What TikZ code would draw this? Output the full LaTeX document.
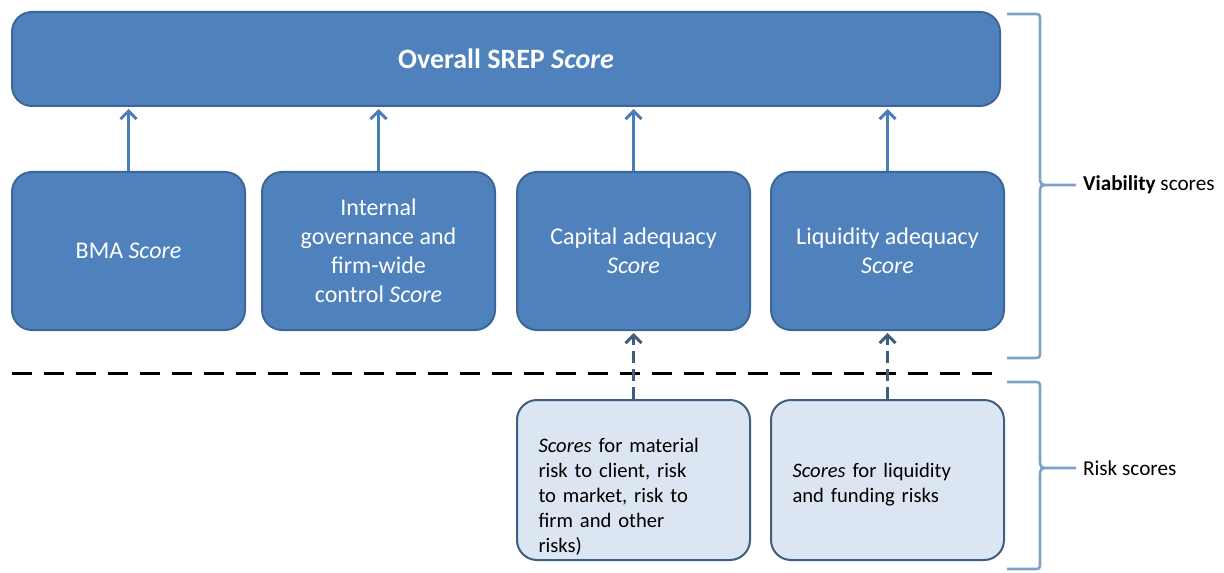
\documentclass[tikz,border=0pt]{standalone}
\usepackage{fontspec}
\setmainfont{Carlito}
\usetikzlibrary{arrows.meta}
\definecolor{boxblue}{HTML}{4F81BD}
\definecolor{boxedge}{HTML}{3C679A}
\definecolor{arrowblue}{HTML}{4A7EBB}
\definecolor{riskfill}{HTML}{DCE6F2}
\definecolor{riskedge}{HTML}{3F5E80}
\definecolor{bracecol}{HTML}{7EA1CB}
\begin{document}
\begin{tikzpicture}[x=0.5pt, y=-0.5pt, >={Straight Barb[length=4pt, width=8pt]},
    score/.style={draw=boxedge, fill=boxblue, line width=1pt, rounded corners=10pt,
      text=white, align=center, minimum width=116.5pt, minimum height=79pt, inner sep=2pt,
      font=\fontsize{12}{14.5}\selectfont},
    riskbox/.style={draw=riskedge, fill=riskfill, line width=1pt, rounded corners=10pt,
      align=left, text width=95pt, inner xsep=10.75pt, inner ysep=1pt, minimum height=80pt,
      font=\fontsize{10.3}{12.5}\selectfont},
    feed/.style={->, draw=arrowblue, line width=1.5pt, shorten >=1pt},
    feeddash/.style={->, draw=riskedge, line width=1.5pt, dash pattern=on 6pt off 3pt, shorten >=1pt},
    brace/.style={draw=bracecol, line width=1.3pt},
    bracelabel/.style={anchor=west, font=\fontsize{10.6}{12}\selectfont}]
  \useasboundingbox (0,0) rectangle (1224,572);

  \node[score, minimum width=494pt, minimum height=47pt, font=\fontsize{14}{16}\selectfont\bfseries]
    (overall) at (506,59) {Overall SREP \textit{Score}};

  \node[score] (bma) at (128.5,251) {BMA \textit{Score}};
  \node[score] (gov) at (378.5,251) {Internal\\governance and\\firm-wide\\control \textit{Score}};
  \node[score] (cap) at (633.5,251) {Capital adequacy\\\textit{Score}};
  \node[score] (liq) at (887.5,251) {Liquidity adequacy\\\textit{Score}};

  \node[riskbox] (caprisk) at (633.5,480) {\rule{0pt}{24pt}\textit{Scores} for material\\risk to client, risk\\to market, risk to\\firm and other\\risks)};
  \node[riskbox] (liqrisk) at (887.5,480) {\rule{0pt}{12pt}\textit{Scores} for liquidity\\and funding risks};

  \foreach \n in {bma, gov, cap, liq}
    \draw[feed] (\n.north) -- (overall.south -| \n.north);

  % viability / risk split
  \draw[line width=1.5pt, dash pattern=on 10pt off 6pt] (12,373) -- (1000,373);

  \draw[feeddash] (caprisk.north) -- (cap.south);
  \draw[feeddash] (liqrisk.north) -- (liq.south);

  % braces on the right
  \draw[brace] (1007,14) -- (1033,14) .. controls (1040,14) .. (1040,21) -- (1040,175)
    .. controls (1040,185) .. (1050,185) -- (1076,185) -- (1050,185)
    .. controls (1040,185) .. (1040,195) -- (1040,351) .. controls (1040,358) .. (1033,358) -- (1007,358);
  \coordinate (viatip) at (1076,185);
  \node[bracelabel] (via) at (viatip) {\textbf{Viability} scores};

  \draw[brace] (1007,382) -- (1033,382) .. controls (1040,382) .. (1040,389) -- (1040,458)
    .. controls (1040,468) .. (1050,468) -- (1076,468) -- (1050,468)
    .. controls (1040,468) .. (1040,478) -- (1040,562) .. controls (1040,569) .. (1033,569) -- (1007,569);
  \coordinate (risktip) at (1076,468);
  \node[bracelabel] (risk) at (risktip) {Risk scores};
\end{tikzpicture}
\end{document}
